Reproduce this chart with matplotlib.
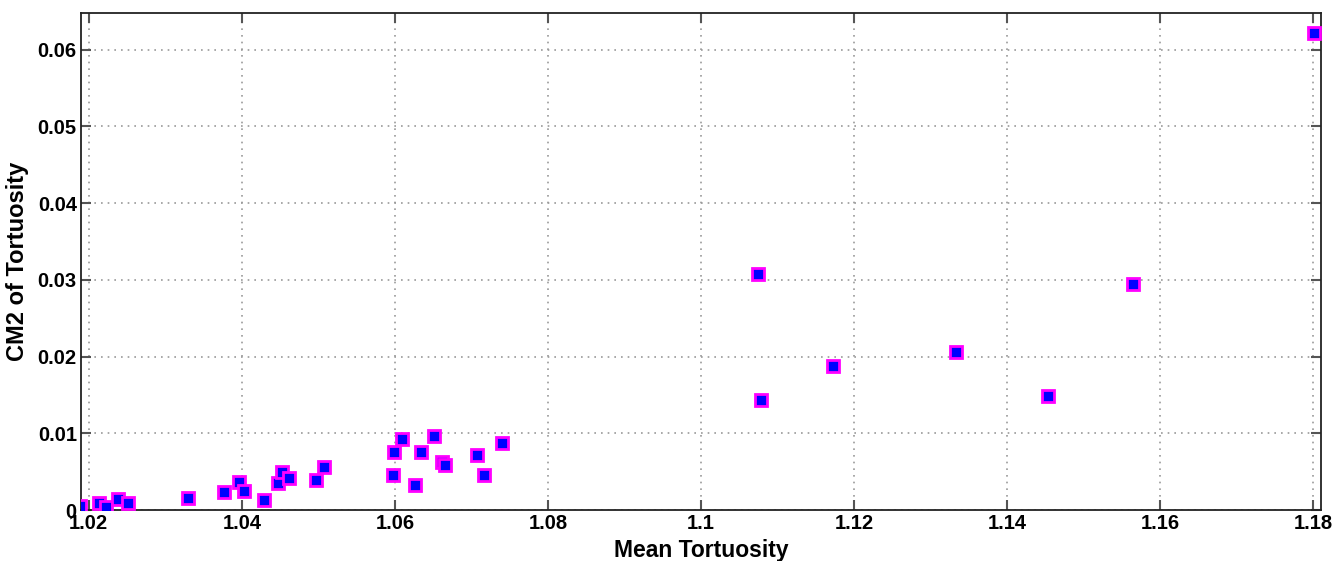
import matplotlib
matplotlib.use("Agg")
import matplotlib.pyplot as plt

# valores
mean_tort = [1.0189, 1.0214, 1.0223, 1.0238, 1.0251, 1.0330, 1.0377, 1.0396,
             1.0403, 1.0429, 1.0447, 1.0452, 1.0462, 1.0497, 1.0507, 1.0597,
             1.0599, 1.0609, 1.0626, 1.0634, 1.0651, 1.0661, 1.0665, 1.0708,
             1.0717, 1.0740, 1.1074, 1.1078, 1.1172, 1.1333, 1.1453, 1.1565,
             1.1801]
cm2_tort = [0.00056, 0.00095, 0.00043, 0.0014, 0.00095, 0.0016, 0.0023, 0.0037,
            0.0025, 0.0013, 0.0035, 0.0050, 0.0042, 0.0039, 0.0056, 0.0045,
            0.0076, 0.0092, 0.0032, 0.0076, 0.0096, 0.0063, 0.0059, 0.0072,
            0.0046, 0.0087, 0.0308, 0.0143, 0.0188, 0.0206, 0.0149, 0.0294,
            0.0622]
xticks = [1.02, 1.04, 1.06, 1.08, 1.1, 1.12, 1.14, 1.16, 1.18]
xticklabels = ["1.02", "1.04", "1.06", "1.08", "1.1", "1.12", "1.14", "1.16", "1.18"]
yticks = [0, 0.01, 0.02, 0.03, 0.04, 0.05, 0.06]
yticklabels = ["0", "0.01", "0.02", "0.03", "0.04", "0.05", "0.06"]

plt.rcParams['font.family'] = ['Liberation Sans', 'DejaVu Sans']

fig = plt.figure(figsize=(13.37, 5.61), dpi=100)
ax = fig.add_axes([0.0606, 0.0909, 0.9274, 0.886])

ax.plot(mean_tort, cm2_tort, linestyle="none", marker="s", markersize=9,
        markerfacecolor="#0000ff", markeredgecolor="#ff00ff", markeredgewidth=2,
        zorder=3)

ax.set_xlim(1.019, 1.181)
ax.set_ylim(0, 0.0648)
ax.set_xticks(xticks)
ax.set_xticklabels(xticklabels)
ax.set_yticks(yticks)
ax.set_yticklabels(yticklabels)

ax.grid(True, linestyle=(0, (1, 3)), color="#999999", linewidth=1.2)
ax.tick_params(direction="in", length=7, width=1.5, color="#555555",
               top=True, right=True, labelsize=14.5, pad=3)
for lbl in ax.get_xticklabels() + ax.get_yticklabels():
    lbl.set_fontweight("bold")
for s in ax.spines.values():
    s.set_linewidth(1.3)
    s.set_color("#222222")

ax.set_xlabel("Mean Tortuosity", fontsize=16.5, fontweight="bold", labelpad=4)
ax.set_ylabel("CM2 of Tortuosity", fontsize=17, fontweight="bold", labelpad=6)

fig.savefig("out.png", dpi=100)
